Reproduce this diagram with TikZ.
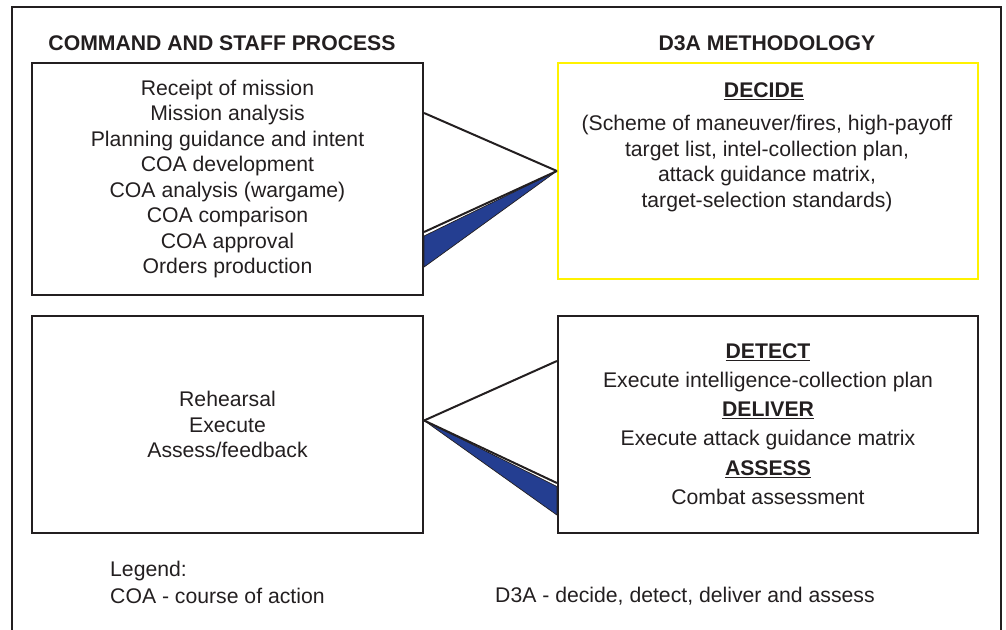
\documentclass[tikz,border=0pt]{standalone}
\usepackage{fontspec}
\setmainfont{Liberation Sans}
\usetikzlibrary{positioning, calc}
\definecolor{ribbonblue}{RGB}{36,62,145}
\definecolor{decideyellow}{RGB}{255,242,0}
\definecolor{inkgray}{RGB}{35,31,32}

\begin{document}
\begin{tikzpicture}[x=1pt, y=-1pt, font=\fontsize{21.2}{25.5}\selectfont, text=inkgray,
		box/.style={draw=inkgray, line width=2.2pt, inner sep=0pt},
		head/.style={font=\fontsize{21.2}{25.5}\selectfont\bfseries},
		legend/.style={anchor=west, inner sep=0pt},
		link/.style={draw=inkgray, line width=2pt},
		ribbon/.style={fill=ribbonblue, draw=inkgray, line width=0.7pt, line join=round}]
			\useasboundingbox (0,0) rectangle (1006,629);
			\draw[inkgray, line width=1.3pt] (12,640) -- (12,7) -- (1001,7) -- (1001,640);
			
			\node[head] (cspTitle) at (222,43) {COMMAND AND STAFF PROCESS};
			\node[head] (d3aTitle) at (767,43) {D3A METHODOLOGY};
			
			\node[box, minimum width=391pt, minimum height=232pt, align=center] (plan) at (227.5,179)
				{Receipt of mission\\Mission analysis\\Planning guidance and intent\\COA development\\COA analysis (wargame)\\COA comparison\\COA approval\\Orders production};
			\node[box, draw=decideyellow, minimum width=420pt, minimum height=216pt] (decide) at (768,171) {};
			\node[head] (decideHead) at (764,91) {\underline{DECIDE}};
			\node[align=center] (decideText) at (767,163.5)
				{(Scheme of maneuver/fires, high-payoff\\target list, intel-collection plan,\\attack guidance matrix,\\target-selection standards)};
			
			\node[box, minimum width=391pt, minimum height=217pt, align=center] (exec) at (227.5,424.5)
				{Rehearsal\\Execute\\Assess/feedback};
			\node[box, minimum width=420pt, minimum height=217pt] (d3a) at (768,424.5) {};
			\node[align=center, font=\fontsize{21.2}{29.2}\selectfont] (d3aText) at (768,424)
				{\textbf{\underline{DETECT}}\\Execute intelligence-collection plan\\\textbf{\underline{DELIVER}}\\Execute attack guidance matrix\\\textbf{\underline{ASSESS}}\\Combat assessment};
			
			\node[legend] (legendHead) at (110,571) {Legend:};
			\node[legend] (legendCoa) at (110,596) {COA - course of action};
			\node[legend] (legendD3a) at (495,596) {D3A - decide, detect, deliver and assess};
			
			% plan -> decide
			\filldraw[ribbon] ($(plan.east)+(0,57)$) -- (decide.west) -- ($(plan.east)+(0,88)$) -- cycle;
			\draw[link] ($(plan.east)+(0,53)$) -- (decide.west);
			\draw[link] ($(plan.east)+(0,-66)$) -- (decide.west);
			
			% exec -> d3a
			\coordinate (execTip) at ($(exec.east)+(0,-4)$);
			\filldraw[ribbon] (execTip) -- ($(d3a.west)+(0,62)$) -- ($(d3a.west)+(0,90.5)$) -- cycle;
			\draw[link] (execTip) -- ($(d3a.west)+(0,58.5)$);
			\draw[link] (execTip) -- ($(d3a.west)+(0,-63.5)$);
		\end{tikzpicture}
\end{document}
